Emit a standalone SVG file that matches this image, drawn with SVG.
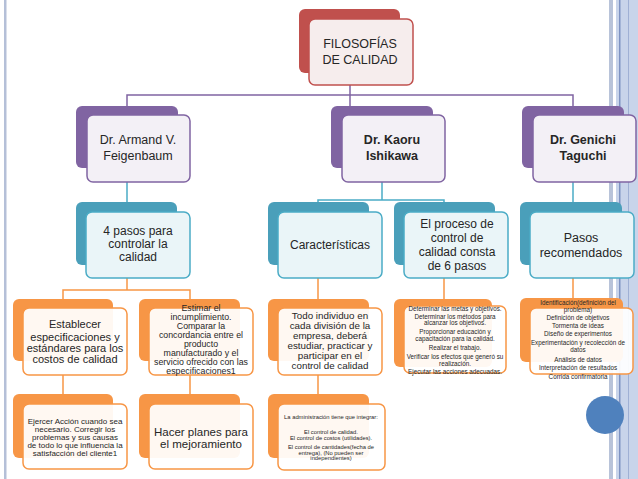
<svg xmlns="http://www.w3.org/2000/svg" width="638" height="479" viewBox="0 0 638 479">
<style>
text{font-family:"Liberation Sans",Arial,sans-serif;fill:#262626;text-anchor:middle}
.br{fill:#c0504d}.fr{fill:#f6eded;stroke:#c0504d;stroke-width:1.5}
.bp{fill:#8064a2}.fp{fill:#f3f0f6;stroke:#8064a2;stroke-width:1.5}
.bb{fill:#4a9fba}.fb{fill:#eaf5f8;stroke:#4bacc6;stroke-width:1.5}
.bo{fill:#f79646}.fo{fill:#fff;fill-opacity:.93;stroke:#f79646;stroke-width:1.5}
.c{fill:none;stroke-width:1.5}
</style>
<rect x="0" y="0" width="638" height="479" fill="#fff"/>
<rect x="4" y="0" width="2.5" height="479" fill="#b5c0d8"/>
<rect x="609" y="0" width="4" height="479" fill="#b8c3d9"/>
<rect x="616" y="0" width="22" height="479" fill="#c8d4ea"/>
<rect x="619" y="0" width="1.5" height="479" fill="#7e93c2"/>
<rect x="628" y="0" width="1" height="479" fill="#9fb0d4"/>
<g id="connectors">
<path class="c" stroke="#8064a2" d="M350 85V95M127 106V95H573V106M350 95V106"/>
<path class="c" stroke="#4bacc6" d="M127 182V202M382 182V200M318 202V200H444V202M573 182V202"/>
<path class="c" stroke="#f79646" d="M127 278V290M63 299V290H190V299M63 375V394M190 375V394M318 278V299M318 375V394M444 278V299M573 278V299"/>
</g>
<g id="root"><rect class="br" x="299" y="9" width="101" height="64" rx="6"/><rect class="fr" x="309" y="19" width="104" height="66" rx="6"/>
<text x="360" y="48" font-size="12.5">FILOSOFÍAS</text><text x="360" y="64" font-size="12.5">DE CALIDAD</text></g>
<g id="feigenbaum"><rect class="bp" x="76" y="106" width="102" height="62" rx="6"/><rect class="fp" x="87" y="115" width="103" height="67" rx="6"/>
<text x="138" y="144" font-size="12.5">Dr. Armand V.</text><text x="138" y="160" font-size="12.5">Feigenbaum</text></g>
<g id="ishikawa"><rect class="bp" x="331" y="106" width="102" height="62" rx="6"/><rect class="fp" x="342" y="115" width="103" height="67" rx="6"/>
<text x="392" y="144" font-size="12.5" font-weight="bold">Dr. Kaoru</text><text x="392" y="160" font-size="12.5" font-weight="bold">Ishikawa</text></g>
<g id="taguchi"><rect class="bp" x="522" y="106" width="102" height="62" rx="6"/><rect class="fp" x="533" y="115" width="103" height="67" rx="6"/>
<text x="583" y="144" font-size="12.5" font-weight="bold">Dr. Genichi</text><text x="583" y="160" font-size="12.5" font-weight="bold">Taguchi</text></g>
<g id="cuatro"><rect class="bb" x="76" y="202" width="101" height="63" rx="6"/><rect class="fb" x="86" y="212" width="104" height="66" rx="6"/>
<text x="138" y="235" font-size="12">4 pasos para</text><text x="138" y="248" font-size="12">controlar la</text><text x="138" y="261" font-size="12">calidad</text></g>
<g id="caracteristicas"><rect class="bb" x="268" y="202" width="101" height="63" rx="6"/><rect class="fb" x="278" y="212" width="104" height="66" rx="6"/>
<text x="330" y="249" font-size="12">Características</text></g>
<g id="proceso"><rect class="bb" x="394" y="202" width="101" height="63" rx="6"/><rect class="fb" x="404" y="212" width="104" height="66" rx="6"/>
<text x="457" y="228" font-size="12">El proceso de</text><text x="457" y="242" font-size="12">control de</text><text x="457" y="256" font-size="12">calidad consta</text><text x="457" y="270" font-size="12">de 6 pasos</text></g>
<g id="pasos"><rect class="bb" x="520" y="202" width="102" height="63" rx="6"/><rect class="fb" x="530" y="212" width="104" height="66" rx="6"/>
<text x="581" y="242" font-size="12.5">Pasos</text><text x="581" y="257" font-size="12.5">recomendados</text></g>
<g id="establecer"><rect class="bo" x="13" y="299" width="100" height="62" rx="6"/><rect class="fo" x="23" y="308" width="104" height="67" rx="6"/>
<text x="75" y="328" font-size="11">Establecer</text><text x="75" y="341" font-size="11">especificaciones y</text><text x="75" y="352" font-size="11">estándares para los</text><text x="75" y="363" font-size="11">costos de calidad</text></g>
<g id="estimar"><rect class="bo" x="139" y="299" width="101" height="62" rx="6"/><rect class="fo" x="149" y="308" width="104" height="67" rx="6"/>
<g font-size="8.8"><text x="201" y="311">Estimar el</text><text x="201" y="320">incumplimiento.</text><text x="201" y="329">Comparar la</text><text x="201" y="338">concordancia entre el</text><text x="201" y="347">producto</text><text x="201" y="356">manufacturado y el</text><text x="201" y="365">servicio ofrecido con las</text><text x="201" y="374">especificaciones1</text></g></g>
<g id="ejercer"><rect class="bo" x="13" y="394" width="100" height="64" rx="6"/><rect class="fo" x="23" y="404" width="104" height="65" rx="6"/>
<g font-size="8"><text x="75" y="424">Ejercer Acción cuando sea</text><text x="75" y="432">necesario. Corregir los</text><text x="75" y="440">problemas y sus causas</text><text x="75" y="448">de todo lo que influencia la</text><text x="75" y="456">satisfacción del cliente1</text></g></g>
<g id="hacer"><rect class="bo" x="139" y="394" width="101" height="64" rx="6"/><rect class="fo" x="149" y="404" width="104" height="65" rx="6"/>
<text x="201" y="436" font-size="11.5">Hacer planes para</text><text x="201" y="448" font-size="11.5">el mejoramiento</text></g>
<g id="todo"><rect class="bo" x="268" y="299" width="101" height="62" rx="6"/><rect class="fo" x="278" y="308" width="104" height="67" rx="6"/>
<g font-size="9.8"><text x="330" y="319">Todo individuo en</text><text x="330" y="329">cada división de la</text><text x="330" y="339">empresa, deberá</text><text x="330" y="349">estudiar, practicar y</text><text x="330" y="359">participar en el</text><text x="330" y="369">control de calidad</text></g></g>
<g id="administracion"><rect class="bo" x="268" y="394" width="101" height="64" rx="6"/><rect class="fo" x="278" y="404" width="107" height="66" rx="6"/>
<g font-size="5.8"><text x="331" y="419">La administración tiene que integrar:</text><text x="331" y="434">El control de calidad.</text><text x="331" y="440">El control de costos (utilidades).</text><text x="331" y="449">El control de cantidades(fecha de</text><text x="331" y="455">entrega), (No pueden ser</text><text x="331" y="460">independientes)</text></g></g>
<g id="determinar"><rect class="bo" x="394" y="299" width="98" height="68" rx="6"/><rect class="fo" x="404" y="306" width="102" height="67" rx="6"/>
<g font-size="6.3"><text x="455" y="311">Determinar las metas y objetivos.</text><text x="455" y="319">Determinar los métodos para</text><text x="455" y="325">alcanzar los objetivos.</text><text x="455" y="334">Proporcionar educación y</text><text x="455" y="341">capacitación para la calidad.</text><text x="455" y="350">Realizar el trabajo.</text><text x="455" y="359">Verificar los efectos que generó su</text><text x="455" y="366">realización.</text><text x="455" y="374">Ejecutar las acciones adecuadas.</text></g></g>
<g id="identificacion"><rect class="bo" x="520" y="298" width="103" height="64" rx="6"/><rect class="fo" x="530" y="308" width="103" height="66" rx="6"/>
<g font-size="6.3"><text x="578" y="305">Identificación(definición del</text><text x="578" y="312">problema)</text><text x="578" y="320">Definición de objetivos</text><text x="578" y="328">Tormenta de ideas</text><text x="578" y="336">Diseño de experimentos</text><text x="578" y="345">Experimentación  y recolección de</text><text x="578" y="352">datos</text><text x="578" y="362">Análisis de datos</text><text x="578" y="370">Interpretación de resultados</text><text x="578" y="379">Corrida confirmatoria</text></g></g>
<circle cx="605" cy="415" r="19" fill="#4f81bd"/>
</svg>
